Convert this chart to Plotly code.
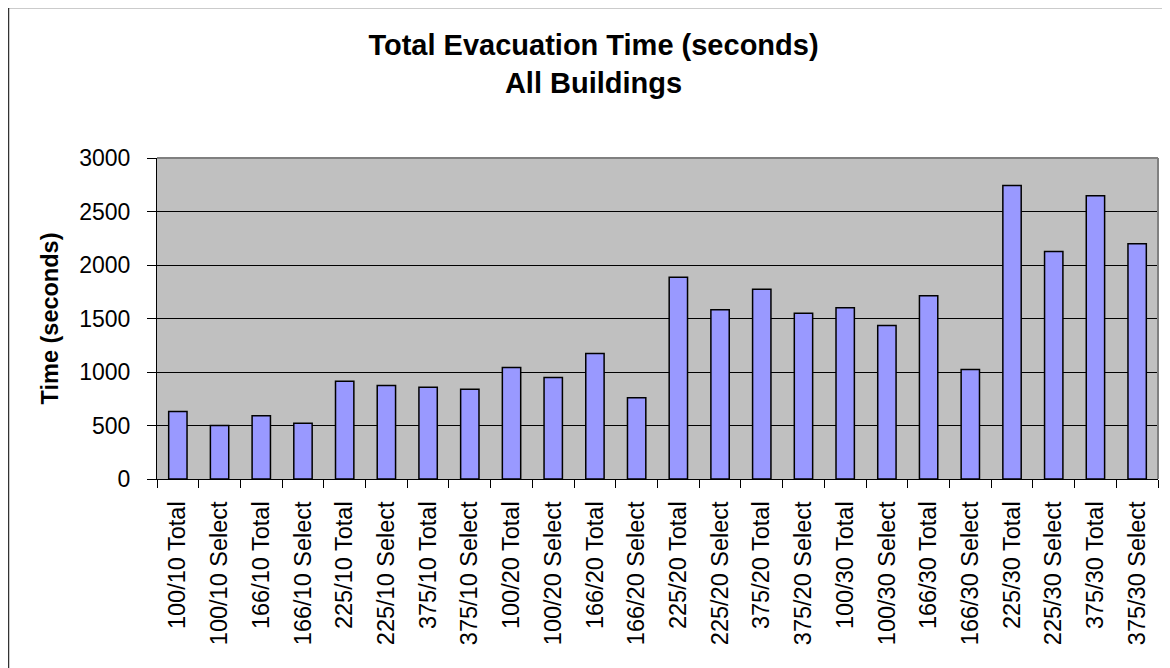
import plotly.graph_objects as go

categories = ["100/10 Total", "100/10 Select", "166/10 Total", "166/10 Select",
              "225/10 Total", "225/10 Select", "375/10 Total", "375/10 Select",
              "100/20 Total", "100/20 Select", "166/20 Total", "166/20 Select",
              "225/20 Total", "225/20 Select", "375/20 Total", "375/20 Select",
              "100/30 Total", "100/30 Select", "166/30 Total", "166/30 Select",
              "225/30 Total", "225/30 Select", "375/30 Total", "375/30 Select"]
times = [630, 500, 592, 520, 913, 873, 857, 838, 1042, 948, 1173, 760,
         1885, 1582, 1773, 1548, 1600, 1435, 1713, 1023, 2742, 2126, 2648, 2198]
y_ticks = [0, 500, 1000, 1500, 2000, 2500, 3000]

FONT = "Liberation Sans, Arial, sans-serif"
# page has an 8px body margin, so the figure is drawn 8px in from the top-left
W, H = 1162, 660
L, R, T, B = 149, 12, 150, 189
pw, ph = W - L - R, H - T - B

fig = go.Figure(go.Bar(
    x=categories, y=times,
    marker=dict(color="#9999FF", line=dict(color="black", width=1.5)),
))

def px_to_paper_x(px):
    return (px - L) / pw

def px_to_paper_y(py):
    return (H - B - py) / ph

fig.update_layout(
    width=W, height=H,
    margin=dict(l=L, r=R, t=T, b=B, autoexpand=False),
    paper_bgcolor="white",
    plot_bgcolor="#C0C0C0",
    bargap=0.56,
    showlegend=False,
    font=dict(family=FONT, color="black"),
    title=dict(
        text="<b>Total Evacuation Time (seconds)<br>All Buildings</b>",
        x=585.5 / W, xanchor="center", xref="container",
        y=1 - 47 / H, yanchor="top", yref="container",
        font=dict(family=FONT, size=29, color="black"),
    ),
    xaxis=dict(
        tickangle=-90, tickfont=dict(family=FONT, size=23.5),
        showline=True, linecolor="black", linewidth=1,
        ticks="outside", ticklen=8, tickcolor="black", tickson="boundaries",
        showgrid=False, ticklabelstandoff=12,
    ),
    yaxis=dict(
        range=[0, 3000], tickvals=y_ticks,
        tickfont=dict(family=FONT, size=23),
        title=dict(text="<b>Time (seconds)</b>", font=dict(family=FONT, size=23.5), standoff=14),
        showline=True, linecolor="black", linewidth=1,
        ticks="outside", ticklen=9, tickcolor="black",
        showgrid=True, gridcolor="black", gridwidth=1,
        zeroline=False, ticklabelstandoff=12,
    ),
    shapes=[
        dict(type="line", xref="paper", yref="paper", x0=0, x1=1, y0=1, y1=1,
             line=dict(color="#808080", width=2)),
        dict(type="line", xref="paper", yref="paper", x0=1, x1=1, y0=0, y1=1,
             line=dict(color="#808080", width=2)),
        dict(type="line", xref="paper", yref="paper",
             x0=px_to_paper_x(0.5), x1=px_to_paper_x(0.5),
             y0=px_to_paper_y(-1), y1=px_to_paper_y(700),
             line=dict(color="#333333", width=1.5)),
        dict(type="line", xref="paper", yref="paper",
             x0=px_to_paper_x(0.5), x1=px_to_paper_x(1200),
             y0=px_to_paper_y(-0.5), y1=px_to_paper_y(-0.5),
             line=dict(color="#333333", width=1.5)),
    ],
)

fig.write_html("out.html")
